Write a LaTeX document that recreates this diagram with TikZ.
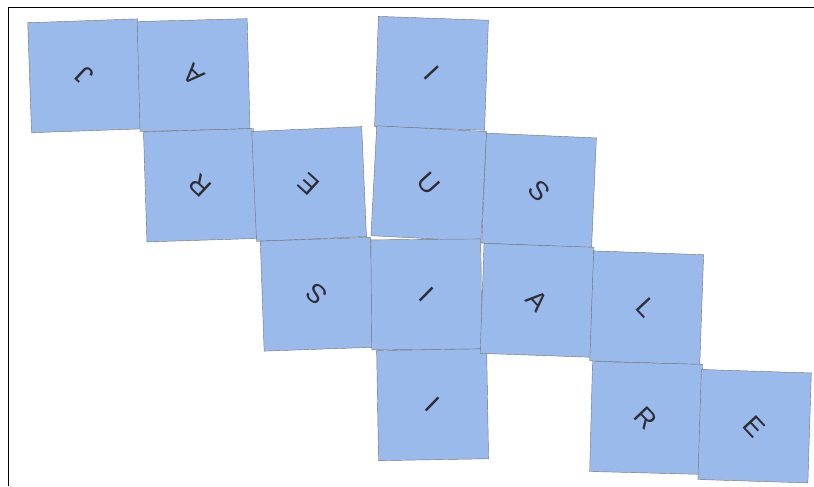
\documentclass[tikz,border=0pt]{standalone}
\usepackage{fontspec}
\setmainfont{Liberation Sans}
\definecolor{paper}{RGB}{155,186,236}
\definecolor{ink}{RGB}{45,45,52}

\begin{document}
\begin{tikzpicture}[x=0.025cm, y=-0.025cm,
  tile/.style={draw=black!55, line width=0.3pt, fill=paper, minimum size=2.75cm,
    inner sep=0pt, text=ink, font=\fontsize{19}{22}\selectfont}]
  \useasboundingbox (0,0) rectangle (814,486);
  % scanned page edge
  \coordinate (F0) at (8.5,486); \coordinate (F1) at (8.5,7.3); \coordinate (F2) at (814,7.3);
  \draw[line width=1pt] (F0) -- (F1) -- (F2);
  % upper left strip
  \node[tile, rotate=2] (TJ) at (84.6,75.8) {\rotatebox{135}{J}};
  \node[tile, rotate=1.5] (TA1) at (193.6,75.1) {\rotatebox{135}{A}};
  \node[tile, rotate=1.8] (TR1) at (200.2,185.2) {\rotatebox{135}{R}};
  \node[tile, rotate=2.5] (TE1) at (309.1,184) {\rotatebox{135}{E}};
  % middle column
  \node[tile, rotate=-2] (TI1) at (431.5,73.3) {\rotatebox{-45}{I}};
  \node[tile, rotate=-3] (TU) at (428.8,183.6) {\rotatebox{-45}{U}};
  \node[tile, rotate=-2.5] (TS1) at (539,190.5) {\rotatebox{-45}{S}};
  \node[tile, rotate=2] (TS2) at (317.2,294.2) {\rotatebox{135}{S}};
  \node[tile, rotate=0.5] (TI2) at (426.3,294.4) {\rotatebox{-45}{I}};
  \node[tile, rotate=1] (TI3) at (432.6,404.7) {\rotatebox{-45}{I}};
  % lower right strip
  \node[tile, rotate=-2] (TA2) at (537.1,300.3) {\rotatebox{-45}{A}};
  \node[tile, rotate=-2] (TL) at (646.7,307.8) {\rotatebox{-45}{L}};
  \node[tile, rotate=-1.5] (TR2) at (646.1,417.9) {\rotatebox{-45}{R}};
  \node[tile, rotate=-1.8] (TE2) at (754.6,426.2) {\rotatebox{-45}{E}};
\end{tikzpicture}
\end{document}
